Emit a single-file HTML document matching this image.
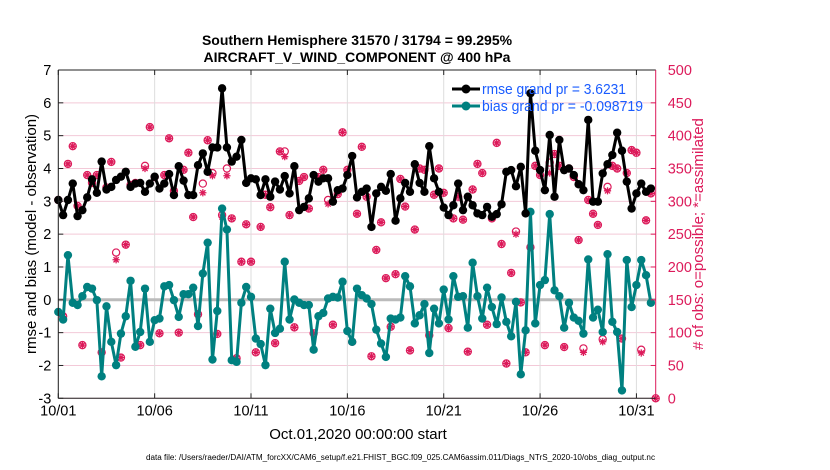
<!DOCTYPE html>
<html><head><meta charset="utf-8"><style>
body{margin:0;background:#fff;}
svg{display:block;font-family:"Liberation Sans",sans-serif;}
</style></head><body>
<svg id="chart" width="830" height="470" viewBox="0 0 830 470" xmlns="http://www.w3.org/2000/svg">
<text x="357" y="45" font-size="14" font-weight="bold" text-anchor="middle">Southern Hemisphere 31570 / 31794 = 99.295%</text>
<text x="357" y="62" font-size="14" font-weight="bold" text-anchor="middle">AIRCRAFT_V_WIND_COMPONENT @ 400 hPa</text>
<g id="grid"></g>
<g id="series"></g>
<g id="axes"></g>
<text x="358" y="439" font-size="15" text-anchor="middle">Oct.01,2020 00:00:00 start</text>
<text transform="translate(36,234) rotate(-90)" font-size="15" text-anchor="middle">rmse and bias (model - observation)</text>
<text transform="translate(703,234) rotate(-90)" font-size="15" fill="#dc1a5a" text-anchor="middle"># of obs: o=possible; *=assimilated</text>
<text x="146" y="460" font-size="8" textLength="509" lengthAdjust="spacingAndGlyphs">data file: /Users/raeder/DAI/ATM_forcXX/CAM6_setup/f.e21.FHIST_BGC.f09_025.CAM6assim.011/Diags_NTrS_2020-10/obs_diag_output.nc</text>
<g id="legend">
<line x1="452" y1="89" x2="480" y2="89" stroke="#000" stroke-width="3"/>
<circle cx="466" cy="89" r="4.5" fill="#000"/>
<text x="482" y="94" font-size="14.5" fill="#1a5cff" textLength="144" lengthAdjust="spacingAndGlyphs">rmse grand pr = 3.6231</text>
<line x1="452" y1="106" x2="480" y2="106" stroke="#008080" stroke-width="3"/>
<circle cx="466" cy="106" r="4.5" fill="#008080"/>
<text x="482" y="111" font-size="14.5" fill="#1a5cff" textLength="161" lengthAdjust="spacingAndGlyphs">bias grand pr = -0.098719</text>
</g>
</svg>
<script>
const rmse=[3.04,2.58,3.04,3.54,2.55,2.73,3.12,3.67,3.26,4.21,3.36,3.44,3.65,3.75,3.90,3.44,3.54,3.56,3.29,3.54,3.75,3.39,3.54,3.83,3.19,4.07,3.63,3.19,3.19,4.10,4.46,3.90,4.64,4.64,6.44,4.64,4.21,4.36,4.87,3.56,3.70,3.67,3.19,3.67,
3.14,3.60,3.36,3.77,3.24,4.07,2.73,2.83,3.09,3.80,3.60,3.70,3.70,2.99,3.34,3.39,3.80,4.38,3.12,3.29,3.39,2.22,3.24,3.44,3.32,3.83,2.41,3.09,3.56,3.29,4.13,3.56,3.29,4.68,3.70,3.29,2.81,2.58,2.88,3.54,
2.73,3.14,2.88,2.63,2.58,2.83,2.53,2.61,2.91,3.90,3.95,3.46,4.05,2.63,6.29,4.54,3.95,3.34,5.02,3.14,4.87,3.95,4.00,3.80,3.52,3.34,5.48,2.99,2.99,3.85,4.13,4.41,5.09,4.54,3.60,2.78,3.24,3.54,3.29,3.39,null];
const bias=[-0.37,-0.60,1.36,-0.09,-0.16,0.11,0.39,0.34,-0.01,-2.33,-0.20,-1.28,-1.99,-1.03,-0.50,0.58,-1.43,-0.98,0.34,-1.28,-0.62,-0.57,0.41,0.45,-0.01,-0.52,0.17,0.17,0.37,-0.80,0.80,1.74,-1.82,-0.34,2.78,2.14,-1.84,-1.89,-0.09,0.39,0.09,-1.18,-1.35,-1.99,
-0.27,-1.01,-0.88,1.16,-0.60,0.01,-0.09,-0.16,-0.16,-1.52,-0.50,-0.40,0.04,0.09,0.07,0.55,-0.95,-1.28,0.34,0.14,0.04,-0.13,-0.91,-1.33,-1.74,-0.57,-0.60,-0.54,0.72,0.41,-0.72,-0.47,-0.13,-1.62,-0.27,-0.72,0.31,-0.60,0.72,0.09,
0.11,-0.85,1.13,0.11,-0.57,0.37,-0.22,-0.74,0.07,-0.67,-1.11,-0.06,-2.27,-0.93,2.68,-0.72,0.45,0.60,2.61,0.29,0.11,-0.85,-0.09,-0.54,-0.64,-1.03,1.23,-0.54,-0.30,-0.98,1.39,-0.67,-0.98,-2.76,1.21,-0.22,0.45,1.21,0.75,-0.09,null];
const obsPossible=[302,125,357,384,293,81,340,328,340,70,321,360,222,62,234,325,328,81,354,413,337,99,340,396,316,100,348,374,276,128,327,393,343,98,279,350,274,61,208,265,208,70,261,310,
291,84,376,376,279,108,331,337,289,99,337,348,302,112,311,405,348,86,281,383,307,64,226,268,183,109,189,334,292,73,257,350,348,96,310,350,313,107,274,307,
272,71,318,357,343,112,274,389,235,53,191,254,146,70,230,354,340,81,359,372,354,78,350,337,241,76,302,281,264,90,322,354,350,91,343,378,374,74,271,312,0];
const obsAssim=[302,125,357,384,293,81,340,328,340,70,321,360,211,62,234,325,328,81,350,413,337,99,340,396,316,100,348,374,276,128,313,393,339,98,276,339,274,61,208,265,208,70,261,310,
291,84,376,368,279,108,331,337,289,99,337,348,296,112,311,405,348,86,281,383,307,64,226,268,183,109,189,334,292,73,257,350,348,96,310,350,313,107,274,307,
272,71,318,357,343,112,274,389,235,53,191,250,146,70,230,354,340,81,343,372,354,78,350,337,241,70,302,281,264,86,316,354,350,91,343,378,374,69,271,312,0];
const xTickLabels=["10/01","10/06","10/11","10/16","10/21","10/26","10/31"];
const xTickDays=[0,5,10,15,20,25,30];
const yTickLabels=[-3,-2,-1,0,1,2,3,4,5,6,7];
const y2TickLabels=[0,50,100,150,200,250,300,350,400,450,500];

const X0=58.3,X1=655.7,Y0=398.3,Y1=70;
const xs=d=>X0+(d/31)*(X1-X0);
const ys=v=>Y0-(v+3)/10*(Y0-Y1);
const y2s=n=>Y0-n/500*(Y0-Y1);
const NS="http://www.w3.org/2000/svg";
function mk(tag,attrs,parent){const e=document.createElementNS(NS,tag);for(const k in attrs)e.setAttribute(k,attrs[k]);parent.appendChild(e);return e;}
const grid=document.getElementById('grid'),ser=document.getElementById('series'),ax=document.getElementById('axes');

yTickLabels.forEach(v=>{
  const g=mk('line',{x1:X0,x2:X1,y1:ys(v),y2:ys(v),stroke:'#f3c9d8','stroke-width':1},grid);
  
  
  const t=mk('text',{x:X0-7,y:ys(v)+5,'font-size':14.5,'text-anchor':'end'},ax);
  t.textContent=v;
  
  
  mk('line',{x1:X0,x2:X0+5,y1:ys(v),y2:ys(v),stroke:'#222'},ax);
});
xTickDays.forEach((d,i)=>{
  const g=mk('line',{x1:xs(d),x2:xs(d),y1:Y1,y2:Y0,stroke:'#ddd','stroke-width':1},grid);
  
  
  const t=mk('text',{x:xs(d),y:Y0+17,'font-size':14.5,'text-anchor':'middle'},ax);
  t.textContent=xTickLabels[i];
  
  
  mk('line',{x1:xs(d),x2:xs(d),y1:Y0,y2:Y0-5,stroke:'#222'},ax);
  mk('line',{x1:xs(d),x2:xs(d),y1:Y1,y2:Y1+5,stroke:'#222'},ax);
});
y2TickLabels.forEach(n=>{
  const t=mk('text',{x:X1+12,y:y2s(n)+5,'font-size':14.5,fill:'#dc1a5a'},ax);
  t.textContent=n;
  
  
  mk('line',{x1:X1-5,x2:X1,y1:y2s(n),y2:y2s(n),stroke:'#dc1a5a'},ax);
});
const z=mk('line',{x1:X0,x2:X1,y1:ys(0),y2:ys(0),stroke:'#bbb','stroke-width':3},grid);


mk('line',{x1:X0,x2:X1,y1:Y1,y2:Y1,stroke:'#222'},ax);
mk('line',{x1:X0,x2:X1,y1:Y0,y2:Y0,stroke:'#222'},ax);
mk('line',{x1:X0,x2:X0,y1:Y1,y2:Y0,stroke:'#222'},ax);
mk('line',{x1:X1,x2:X1,y1:Y1,y2:Y0,stroke:'#dc1a5a'},ax);

obsPossible.forEach((n,i)=>{
  const c=mk('circle',{cx:xs(i/4),cy:y2s(n),r:3.6,fill:'none',stroke:'#dc1a5a','stroke-width':1.2},ser);
  
  
});
obsAssim.forEach((n,i)=>{
  const x=xs(i/4),y=y2s(n),r=3.6;
  const g=mk('path',{d:`M${x-r},${y}H${x+r}M${x},${y-r}V${y+r}M${x-2.6},${y-2.6}L${x+2.6},${y+2.6}M${x-2.6},${y+2.6}L${x+2.6},${y-2.6}`,stroke:'#dc1a5a','stroke-width':1.3},ser);
  
  
});
function drawLine(arr,color,name){
  let d='';arr.forEach((v,i)=>{if(v!==null)d+=(d?'L':'M')+xs(i/4)+','+ys(v);});
  const p=mk('path',{d:d,fill:'none',stroke:color,'stroke-width':3,'stroke-linejoin':'round'},ser);
  
  
  arr.forEach((v,i)=>{if(v===null)return;
    const c=mk('circle',{cx:xs(i/4),cy:ys(v),r:4.2,fill:color},ser);
    
    
  });
}
drawLine(bias,'#008080','bias');
drawLine(rmse,'#000','rmse');
</script>
</body></html>
